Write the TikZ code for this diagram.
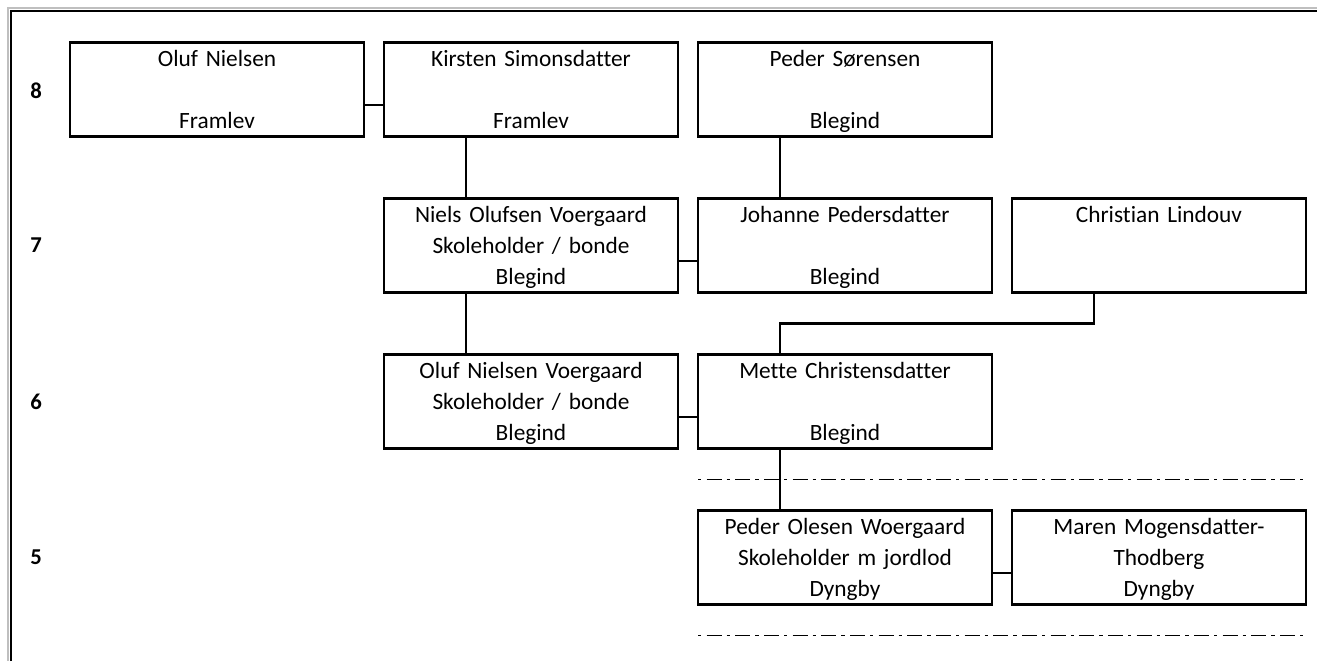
\documentclass[tikz,border=0pt]{standalone}
\usepackage{fontspec}
\setmainfont[Ligatures=NoCommon]{Carlito}
\usetikzlibrary{positioning,calc}

\begin{document}
\begin{tikzpicture}[x=0.75pt,y=-0.75pt,node distance=46.5pt and 15pt,
                    person node/.style={rectangle,draw,line width=1.8pt,outer sep=0pt,inner sep=0pt,
                      minimum width=220.5pt,minimum height=70.5pt,text width=215pt,align=center,
                      font=\fontsize{17.5}{23.25}\selectfont,
                      execute at begin node=\strut,execute at end node={\rule[-4pt]{0pt}{4pt}}},
                    gen node/.style={font=\fontsize{17}{18}\selectfont\bfseries},
                    link/.style={line width=1.8pt},
                    thin link/.style={line width=1pt},
                    gen line/.style={line width=1.4pt,dash pattern=on 2.5pt off 4pt on 11.25pt off 3.75pt}]

  \useasboundingbox (0,0) rectangle (1317,661);
  % frame
  \draw[gray!50,line width=0.8pt] (8,661) -- (8,8) -- (1317,8);
  \draw[line width=2.2pt] (11,661) -- (11,11) -- (1317,11);

  %8%
  \node[person node] (1) at (217,89.5) {Oluf Nielsen\\~\\Framlev};
  \node[person node] (2) [right=of 1] {Kirsten Simonsdatter\\~\\Framlev};
  \node[person node] (3) [right=of 2] {Peder Sørensen\\~\\Blegind};
  %7%
  \node[person node] (4) [below=of 2] {Niels Olufsen Voergaard\\Skoleholder / bonde\\Blegind};
  \node[person node] (5) [right=of 4] {Johanne Pedersdatter\\~\\Blegind};
  \node[person node] (6) [right=of 5] {Christian Lindouv\\~\\~};
  %6%
  \node[person node] (7) [below=of 4] {Oluf Nielsen Voergaard\\Skoleholder / bonde\\Blegind};
  \node[person node] (8) [right=of 7] {Mette Christensdatter\\~\\Blegind};
  %5%
  \node[person node] (9) [below=of 8] {Peder Olesen Woergaard\\Skoleholder m jordlod\\Dyngby};
  \node[person node] (10) [right=of 9] {Maren Mogensdatter-\\Thodberg\\Dyngby};

  % generations
  \node[gen node] (g8) at (36,91) {8};
  \node[gen node] (g7) at (g8 |- 4) {7};
  \node[gen node] (g6) at (g8 |- 7) {6};
  \node[gen node] (g5) at (g8 |- 9) {5};

  % generation borders
  \coordinate (d1) at ($(8.south west)!0.5!(9.north west)$);
  \coordinate (d2) at ([yshift=-23.25pt]9.south west);
  \draw[gen line] (d1) -- (d1 -| 10.east);
  \draw[gen line] (d2) -- (d2 -| 10.east);

  % couples
  \draw[link] ([yshift=-11.6pt]1.east) -- ([yshift=-11.6pt]2.west);
  \draw[thin link] ([yshift=-11.6pt]4.east) -- ([yshift=-11.6pt]5.west);
  \draw[thin link] ([yshift=-11.6pt]7.east) -- ([yshift=-11.6pt]8.west);
  \draw[link] ([yshift=-11.6pt]9.east) -- ([yshift=-11.6pt]10.west);

  % children
  \draw[link] ([xshift=61.5pt]2.south west) -- ([xshift=61.5pt]4.north west);
  \draw[link] ([xshift=61.5pt]3.south west) -- ([xshift=61.5pt]5.north west);
  \draw[link] ([xshift=61.5pt]4.south west) -- ([xshift=61.5pt]7.north west);
  \coordinate (c6) at ([xshift=61.5pt]6.south west);
  \coordinate (c8) at ([xshift=61.5pt]8.north west);
  \draw[link] (c6) |- ($(c6)!0.5!(c8)$) -| (c8);
  \draw[link] ([xshift=61.5pt]8.south west) -- ([xshift=61.5pt]9.north west);
\end{tikzpicture}
\end{document}
